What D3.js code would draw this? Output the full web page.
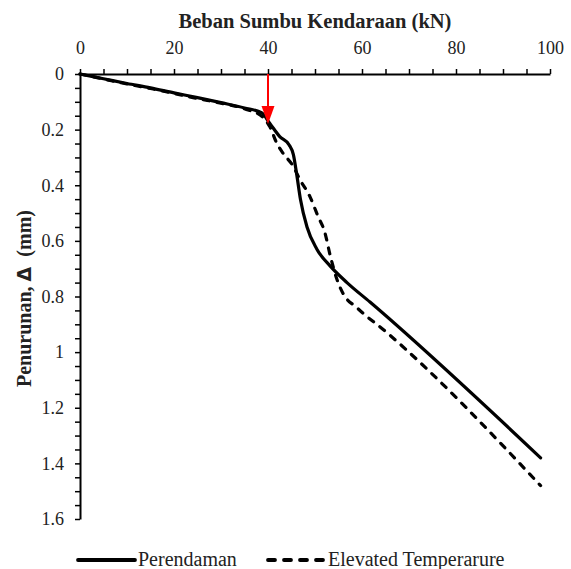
<!DOCTYPE html>
<html>
<head>
<meta charset="utf-8">
<script src="https://cdn.jsdelivr.net/npm/d3@7"></script>
<style>
  body { margin: 0; background: #fff; }
  text { font-family: "Liberation Serif", "Times New Roman", serif; fill: #222; }
</style>
</head>
<body>
<div id="chart"></div>
<script>
// load (kN) vs settlement (mm)
const perendamanLoad = [0, 5, 10, 15, 20, 25, 30, 35, 38.7, 40.4, 42.5, 44.5, 45.4, 46.1, 46.9, 48.3, 50.4, 53.2, 56.8, 61.7, 98];
const perendamanSettle = [0, 0.017, 0.034, 0.05, 0.068, 0.085, 0.103, 0.122, 0.14, 0.178, 0.225, 0.255, 0.29, 0.36, 0.45, 0.55, 0.63, 0.69, 0.75, 0.82, 1.38];

const elevatedLoad = [0, 5, 10, 15, 20, 25, 30, 35, 38.9, 40.4, 41.9, 43.2, 45.3, 46.8, 48.9, 50.6, 52.1, 53.2, 54.7, 56, 58.9, 65.3, 98];
const elevatedSettle = [0, 0.018, 0.036, 0.052, 0.07, 0.088, 0.105, 0.125, 0.155, 0.19, 0.25, 0.285, 0.33, 0.38, 0.44, 0.51, 0.57, 0.65, 0.74, 0.79, 0.84, 0.93, 1.48];

const seriesNames = ['Perendaman', 'Elevated Temperarure'];
const xTicks = d3.range(0, 101, 5);
const yTicks = d3.range(0, 33).map(i => +(i * 0.05).toFixed(2));
const arrowLoad = 40;
const arrowTip = 0.18;

const W = 571, H = 569;
const margin = {t:74, r:21, b:50, l:80};

const svg = d3.select('#chart').append('svg')
	.attr('width', W)
	.attr('height', H);

const x = d3.scaleLinear().domain([0, 100]).range([margin.l, W - margin.r]);
const y = d3.scaleLinear().domain([0, 1.6]).range([margin.t, H - margin.b]);

//axes
const xAxis = d3.axisTop(x)
	.tickValues(xTicks)
	.tickSize(5)
	.tickSizeOuter(0)
	.tickPadding(15)
	.tickFormat(d => d % 20 === 0 ? d : '');

const yAxis = d3.axisLeft(y)
	.tickValues(yTicks)
	.tickSize(5)
	.tickSizeOuter(0)
	.tickPadding(11)
	.tickFormat(d => Math.abs(d / 0.2 - Math.round(d / 0.2)) < 1e-6 ? String(+d.toFixed(1)) : '');

const gx = svg.append('g')
	.attr('transform', `translate(0,${margin.t})`)
	.call(xAxis);
const gy = svg.append('g')
	.attr('transform', `translate(${margin.l},0)`)
	.call(yAxis);

[gx, gy].forEach(g => {
	g.select('.domain').attr('stroke', '#000').attr('stroke-width', 2);
	g.selectAll('.tick line').attr('stroke', '#000').attr('stroke-width', 1.5);
	g.selectAll('.tick text')
		.style('font-family', '"Liberation Serif", serif')
		.style('font-size', '18px')
		.attr('fill', '#222');
});

//titles
svg.append('text')
	.attr('x', (x.range()[0] + x.range()[1]) / 2)
	.attr('y', 28)
	.attr('text-anchor', 'middle')
	.style('font-size', '20.5px')
	.style('font-weight', 'bold')
	.text('Beban Sumbu Kendaraan (kN)');

const yl = svg.append('text')
	.attr('transform', `translate(31,${(y.range()[0] + y.range()[1]) / 2 + 2}) rotate(-90)`)
	.attr('text-anchor', 'middle')
	.style('font-size', '20px')
	.style('font-weight', 'bold');
yl.append('tspan').text('Penurunan, ');
yl.append('tspan').style('font-family', '"DejaVu Sans", sans-serif').style('font-size', '19px').text('Δ');
yl.append('tspan').text('\u00a0 (mm)');

//lines
const line = d3.line()
	.x(d => x(d[0]))
	.y(d => y(d[1]))
	.curve(d3.curveMonotoneX);

const series = [
	{name: seriesNames[0], data: d3.zip(perendamanLoad, perendamanSettle), dash: null},
	{name: seriesNames[1], data: d3.zip(elevatedLoad, elevatedSettle), dash: '6,8'}
];

svg.selectAll('.series')
	.data(series)
	.enter()
	.append('path')
	.attr('class', 'series')
	.attr('d', d => line(d.data))
	.attr('fill', 'none')
	.attr('stroke', '#000')
	.attr('stroke-width', 3.2)
	.attr('stroke-linecap', 'round')
	.attr('stroke-linejoin', 'round')
	.attr('stroke-dasharray', d => d.dash);

//red arrow
const ax = x(arrowLoad);
const tipY = y(arrowTip);
svg.append('line')
	.attr('x1', ax).attr('x2', ax)
	.attr('y1', y(0)).attr('y2', tipY - 14)
	.attr('stroke', '#ff0000')
	.attr('stroke-width', 2);
svg.append('path')
	.attr('d', `M${ax - 6.5},${tipY - 18}L${ax + 6.5},${tipY - 18}L${ax},${tipY}Z`)
	.attr('fill', '#ff0000');

//legend
const legend = svg.selectAll('.legend')
	.data(series)
	.enter()
	.append('g')
	.attr('class', 'legend')
	.attr('transform', (d, i) => `translate(${i === 0 ? 78 : 268},560)`);

legend.append('line')
	.attr('x1', 0).attr('x2', 57)
	.attr('y1', 0).attr('y2', 0)
	.attr('stroke', '#000')
	.attr('stroke-width', 3.8)
	.attr('stroke-linecap', 'round')
	.attr('stroke-dasharray', d => d.dash ? '7,9' : null);

legend.append('text')
	.attr('x', 60)
	.attr('y', 6)
	.style('font-size', '20px')
	.text(d => d.name);
</script>
</body>
</html>
